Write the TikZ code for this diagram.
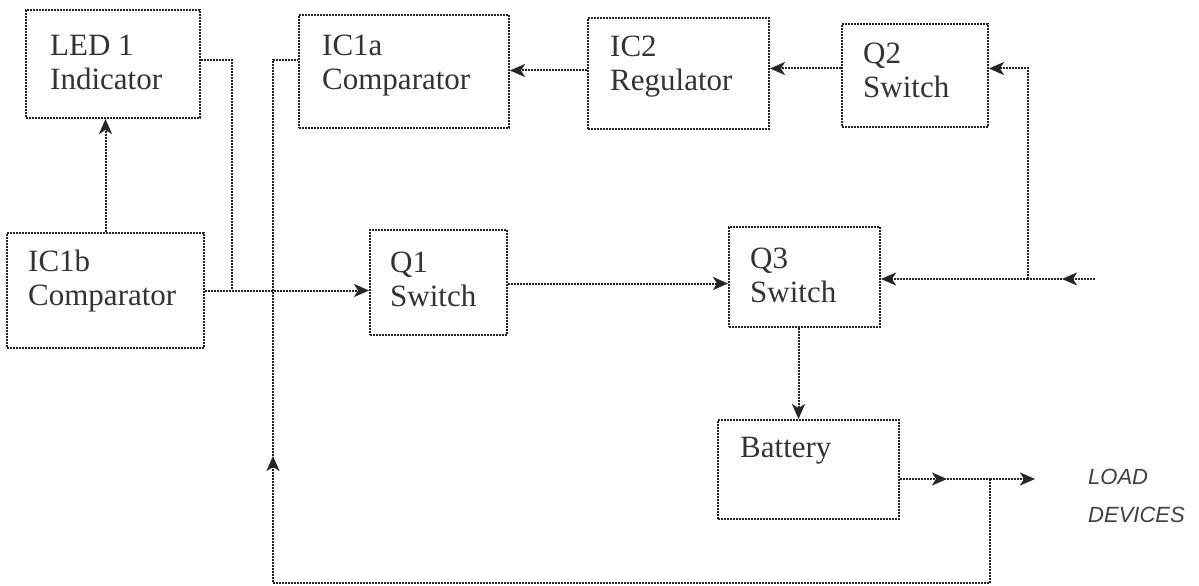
\documentclass[tikz,border=0pt]{standalone}
\usepackage{fontspec}
\setmainfont{Liberation Serif}
\setsansfont{Liberation Sans}
\usetikzlibrary{arrows.meta,calc}

\tikzset{
  wire/.style={draw=black!85, line width=2pt, dash pattern=on 2pt off 1pt},
  arr/.style={wire, -{Stealth[length=15pt,width=13pt,inset=4pt,sep=0pt]}},
  blk/.style={wire, rectangle, inner sep=0pt},
  lbl/.style={anchor=west, align=left, text=black!80, inner sep=0pt,
    font=\fontsize{31}{34}\selectfont}
}

\begin{document}
\begin{tikzpicture}[x=1pt,y=-1pt]

  \useasboundingbox (0,0) rectangle (1199,586);

  % Blocks
  \node[blk, minimum width=174, minimum height=108] (led)   at (113,64)     {};
  \node[blk, minimum width=210, minimum height=113] (icIa)  at (404,71.5)   {};
  \node[blk, minimum width=181, minimum height=111] (icII)  at (678.5,73.5) {};
  \node[blk, minimum width=146, minimum height=103] (qII)   at (915,75.5)   {};
  \node[blk, minimum width=197, minimum height=115] (icIb)  at (105.5,290.5){};
  \node[blk, minimum width=137, minimum height=105] (qI)    at (438.5,282.5){};
  \node[blk, minimum width=151, minimum height=100] (qIII)  at (804.5,277)  {};
  \node[blk, minimum width=181, minimum height=99]  (bat)   at (808.5,469.5){};

  % Texts
  \node[lbl] (led-t)  at (50,62)   {LED 1\\Indicator};
  \node[lbl] (icIa-t) at (322,66)  {IC1a\\Comparator};
  \node[lbl] (icII-t) at (610,67)  {IC2\\Regulator};
  \node[lbl] (qII-t)  at (863,70)  {Q2\\Switch};
  \node[lbl] (icIb-t) at (28,281)  {IC1b\\Comparator};
  \node[lbl] (qI-t)   at (390,279) {Q1\\Switch};
  \node[lbl] (qIII-t) at (750,275) {Q3\\Switch};
  \node[lbl] (bat-t)  at (740,451) {Battery};
  \node[anchor=west, align=left, text=black!75, inner sep=0pt,
        font=\sffamily\itshape\fontsize{22}{38}\selectfont] (load)
        at (1088,496) {LOAD\\DEVICES};

  % Junctions and free ends
  \coordinate (jl) at (232,290);
  \coordinate (inp) at (1095,279);
  \coordinate (jr) at (1028,279);
  \coordinate (jb) at (990,479);
  \coordinate (ld) at (1035,479);
  \coordinate (fb) at (273,583);
  \coordinate (fbm) at (273,456);

  % Connectors
  \draw[arr] (icIb.north) -- (icIb.north |- led.south);
  \draw[wire] ([yshift=4pt]led.east) -| (jl);
  \draw[arr] (icIb.east) -- (icIb.east -| qI.west);
  \draw[arr] ([yshift=-1pt]qI.east) -- ([yshift=-1pt]qI.east -| qIII.west);

  \draw[arr] (inp) -- ++(-33,0);
  \draw[wire] ([xshift=-33pt]inp) -- (jr);
  \draw[arr] (jr) -- (jr -| qIII.east);
  \draw[arr] (jr) |- ([yshift=7pt]qII.east);
  \draw[arr] ([yshift=7pt]qII.west) -- ([yshift=7pt]qII.west -| icII.east);
  \draw[arr] ([yshift=3pt]icII.west) -- ([yshift=3pt]icII.west -| icIa.east);

  \draw[arr] ([xshift=-6pt]qIII.south) -- ([xshift=-6pt]qIII.south |- bat.north);

  \draw[arr] ([yshift=-9.5pt]bat.east) -- (947,479);
  \draw[wire] (947,479) -- (jb);
  \draw[arr] (jb) -- (ld);
  \draw[arr] (jb) |- (fb) -- (fbm);
  \draw[wire] (fbm) |- ([yshift=11.5pt]icIa.west);

\end{tikzpicture}
\end{document}
